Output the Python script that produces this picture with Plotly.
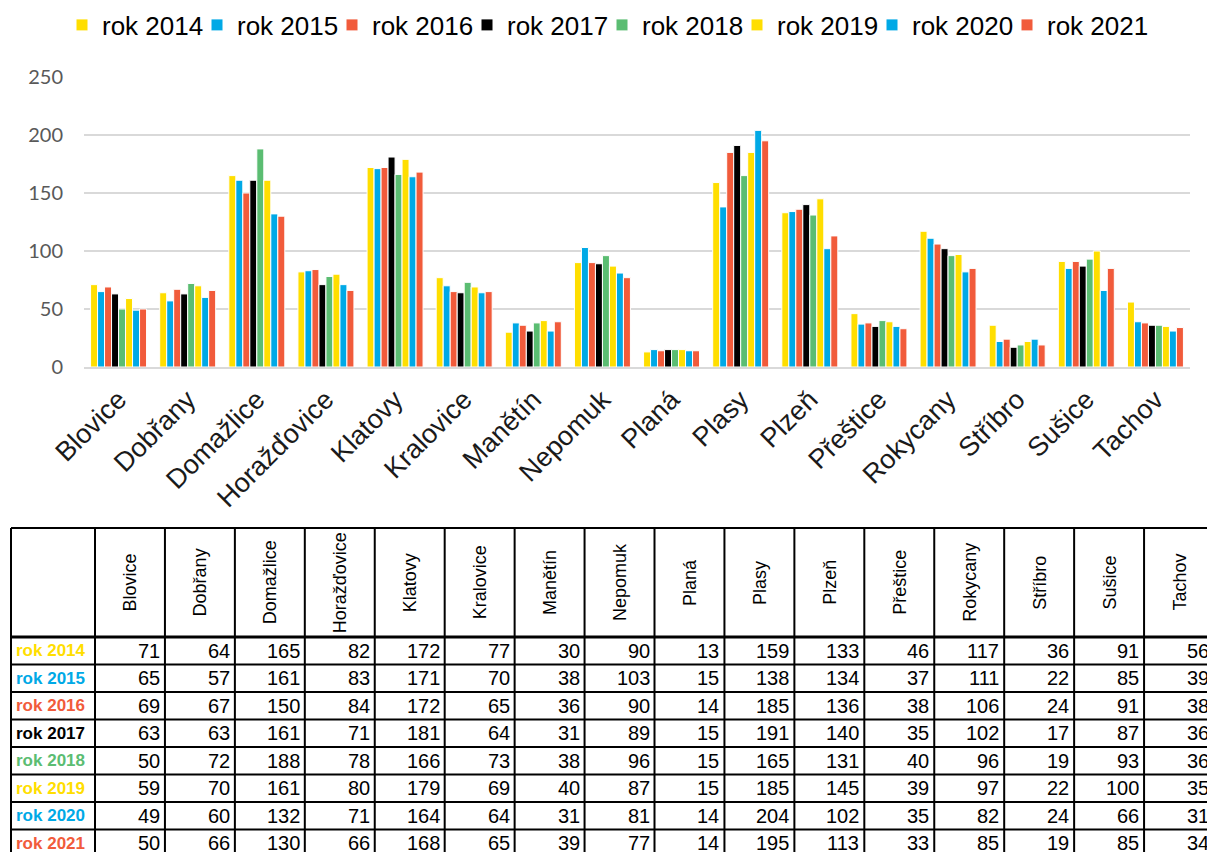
import plotly.graph_objects as go

# ---------------- data ----------------
towns = ["Blovice", "Dobřany", "Domažlice", "Horažďovice", "Klatovy", "Kralovice",
         "Manětín", "Nepomuk", "Planá", "Plasy", "Plzeň", "Přeštice", "Rokycany",
         "Stříbro", "Sušice", "Tachov"]
years = ["rok 2014", "rok 2015", "rok 2016", "rok 2017",
         "rok 2018", "rok 2019", "rok 2020", "rok 2021"]
v2014 = [71, 64, 165, 82, 172, 77, 30, 90, 13, 159, 133, 46, 117, 36, 91, 56]
v2015 = [65, 57, 161, 83, 171, 70, 38, 103, 15, 138, 134, 37, 111, 22, 85, 39]
v2016 = [69, 67, 150, 84, 172, 65, 36, 90, 14, 185, 136, 38, 106, 24, 91, 38]
v2017 = [63, 63, 161, 71, 181, 64, 31, 89, 15, 191, 140, 35, 102, 17, 87, 36]
v2018 = [50, 72, 188, 78, 166, 73, 38, 96, 15, 165, 131, 40, 96, 19, 93, 36]
v2019 = [59, 70, 161, 80, 179, 69, 40, 87, 15, 185, 145, 39, 97, 22, 100, 35]
v2020 = [49, 60, 132, 71, 164, 64, 31, 81, 14, 204, 102, 35, 82, 24, 66, 31]
v2021 = [50, 66, 130, 66, 168, 65, 39, 77, 14, 195, 113, 33, 85, 19, 85, 34]
series = [v2014, v2015, v2016, v2017, v2018, v2019, v2020, v2021]
y_ticks = [0, 50, 100, 150, 200, 250]

# ---------------- styles ----------------
colors = ["#FFDE00", "#00A9E6", "#F15B3B", "#000000",
          "#5BBD72", "#FFDE00", "#00A9E6", "#F15B3B"]
# the html page body has an 8px margin; the figure fills the rest of the window
OFF = 8
FW, FH = 1215 - OFF, 852 - OFF
ARIAL = "Arial, Liberation Sans, sans-serif"
NUM_FONT = "Liberation Sans, Arial, sans-serif"


def px_x(p):
    return (p - OFF) / FW


def px_y(p):
    return 1 - (p - OFF) / FH


fig = go.Figure()
n_series = len(years)
for k, (name, vals, col) in enumerate(zip(years, series, colors)):
    fig.add_trace(go.Bar(
        x=towns, y=vals, name=name,
        marker=dict(color=col, line=dict(color="white", width=1)),
        xaxis="x", yaxis="y",
        legendwidth=90 if k < n_series - 1 else 115,
    ))

# ---------------- table geometry (layout units) ----------------
TBL_LEFT = 11.0        # left border px (window coords)
LABEL_PX = 84.0        # width of the label column in px
TBL_RIGHT = 1214.0     # right border px (window coords)
ROW_PX = 27.5          # data row height in px
HEAD_PX = 109.0        # header row height in px
TBL_TOP = 528.0        # top border px (window coords)
DOM_TOP = 520.0        # top of table subplot domain px (window coords)

n_cols = len(towns)
n_rows = len(years)
COL_PX = (TBL_RIGHT - TBL_LEFT - LABEL_PX) / n_cols

label_u = LABEL_PX / COL_PX
head_u = HEAD_PX / ROW_PX
x_lo = -label_u - (TBL_LEFT - OFF) / COL_PX
x_hi = x_lo + FW / COL_PX
y_top = -head_u - (TBL_TOP - DOM_TOP) / ROW_PX
y_bot = y_top + (FH - (DOM_TOP - OFF)) / ROW_PX

shapes = []
for xb in [-label_u] + list(range(n_cols + 1)):
    shapes.append(dict(type="line", xref="x2", yref="y2", x0=xb, x1=xb,
                       y0=-head_u, y1=n_rows + 1, line=dict(color="black", width=2)))
for i, yb in enumerate([-head_u] + list(range(n_rows + 1))):
    shapes.append(dict(type="line", xref="x2", yref="y2", x0=-label_u, x1=n_cols,
                       y0=yb, y1=yb, line=dict(color="black", width=3 if i == 1 else 2)))

annotations = []
for j, t in enumerate(towns):
    annotations.append(dict(xref="x2", yref="y2", x=j + 0.5, y=-head_u / 2, text=t,
                            textangle=-90, showarrow=False,
                            font=dict(family=ARIAL, size=18, color="black")))
for r, (yr, vals, col) in enumerate(zip(years, series, colors)):
    annotations.append(dict(xref="x2", yref="y2", x=-label_u, y=r + 0.5, text="<b>%s</b>" % yr,
                            xanchor="left", xshift=3, showarrow=False,
                            font=dict(family=ARIAL, size=17, color=col)))
    for j, v in enumerate(vals):
        annotations.append(dict(xref="x2", yref="y2", x=j + 1, y=r + 0.5, text=str(v),
                                xanchor="right", xshift=-3, showarrow=False,
                                font=dict(family=NUM_FONT, size=20, color="black")))

fig.update_layout(
    template="none",
    width=FW, height=FH, autosize=False,
    margin=dict(l=0, r=0, t=0, b=0, pad=0, autoexpand=False),
    paper_bgcolor="white", plot_bgcolor="rgba(0,0,0,0)",
    barmode="group", bargap=0.19, bargroupgap=0,
    xaxis=dict(domain=[px_x(84), px_x(1190)], anchor="y", tickangle=-45, automargin=False,
               tickfont=dict(family=ARIAL, size=27, color="#1a1a1a"),
               ticklabelstandoff=4,
               showline=True, linecolor="#D9D9D9", linewidth=2, ticks="", showgrid=False,
               zeroline=False),
    yaxis=dict(domain=[px_y(367), px_y(77)], anchor="x", range=[0, 250], automargin=False,
               tickvals=y_ticks, showgrid=True, gridcolor="#D9D9D9", gridwidth=2,
               zeroline=False, showline=False, ticks="",
               ticklabelstandoff=20,
               tickfont=dict(family="Lato, Open Sans, sans-serif", size=20, color="#595959")),
    xaxis2=dict(domain=[0, 1], anchor="y2", range=[x_lo, x_hi], visible=False,
                fixedrange=True, automargin=False, showgrid=False, zeroline=False),
    yaxis2=dict(domain=[0, px_y(DOM_TOP)], anchor="x2", range=[y_bot, y_top],
                visible=False, fixedrange=True, automargin=False, showgrid=False, zeroline=False),
    legend=dict(orientation="h", x=px_x(62), xanchor="left", y=px_y(25), yanchor="middle",
                font=dict(family=ARIAL, size=26, color="black"),
                bgcolor="rgba(0,0,0,0)",
                itemwidth=30, traceorder="normal", entrywidthmode="pixels"),
    shapes=shapes, annotations=annotations,
    showlegend=True,
)

fig.write_html("out.html")
